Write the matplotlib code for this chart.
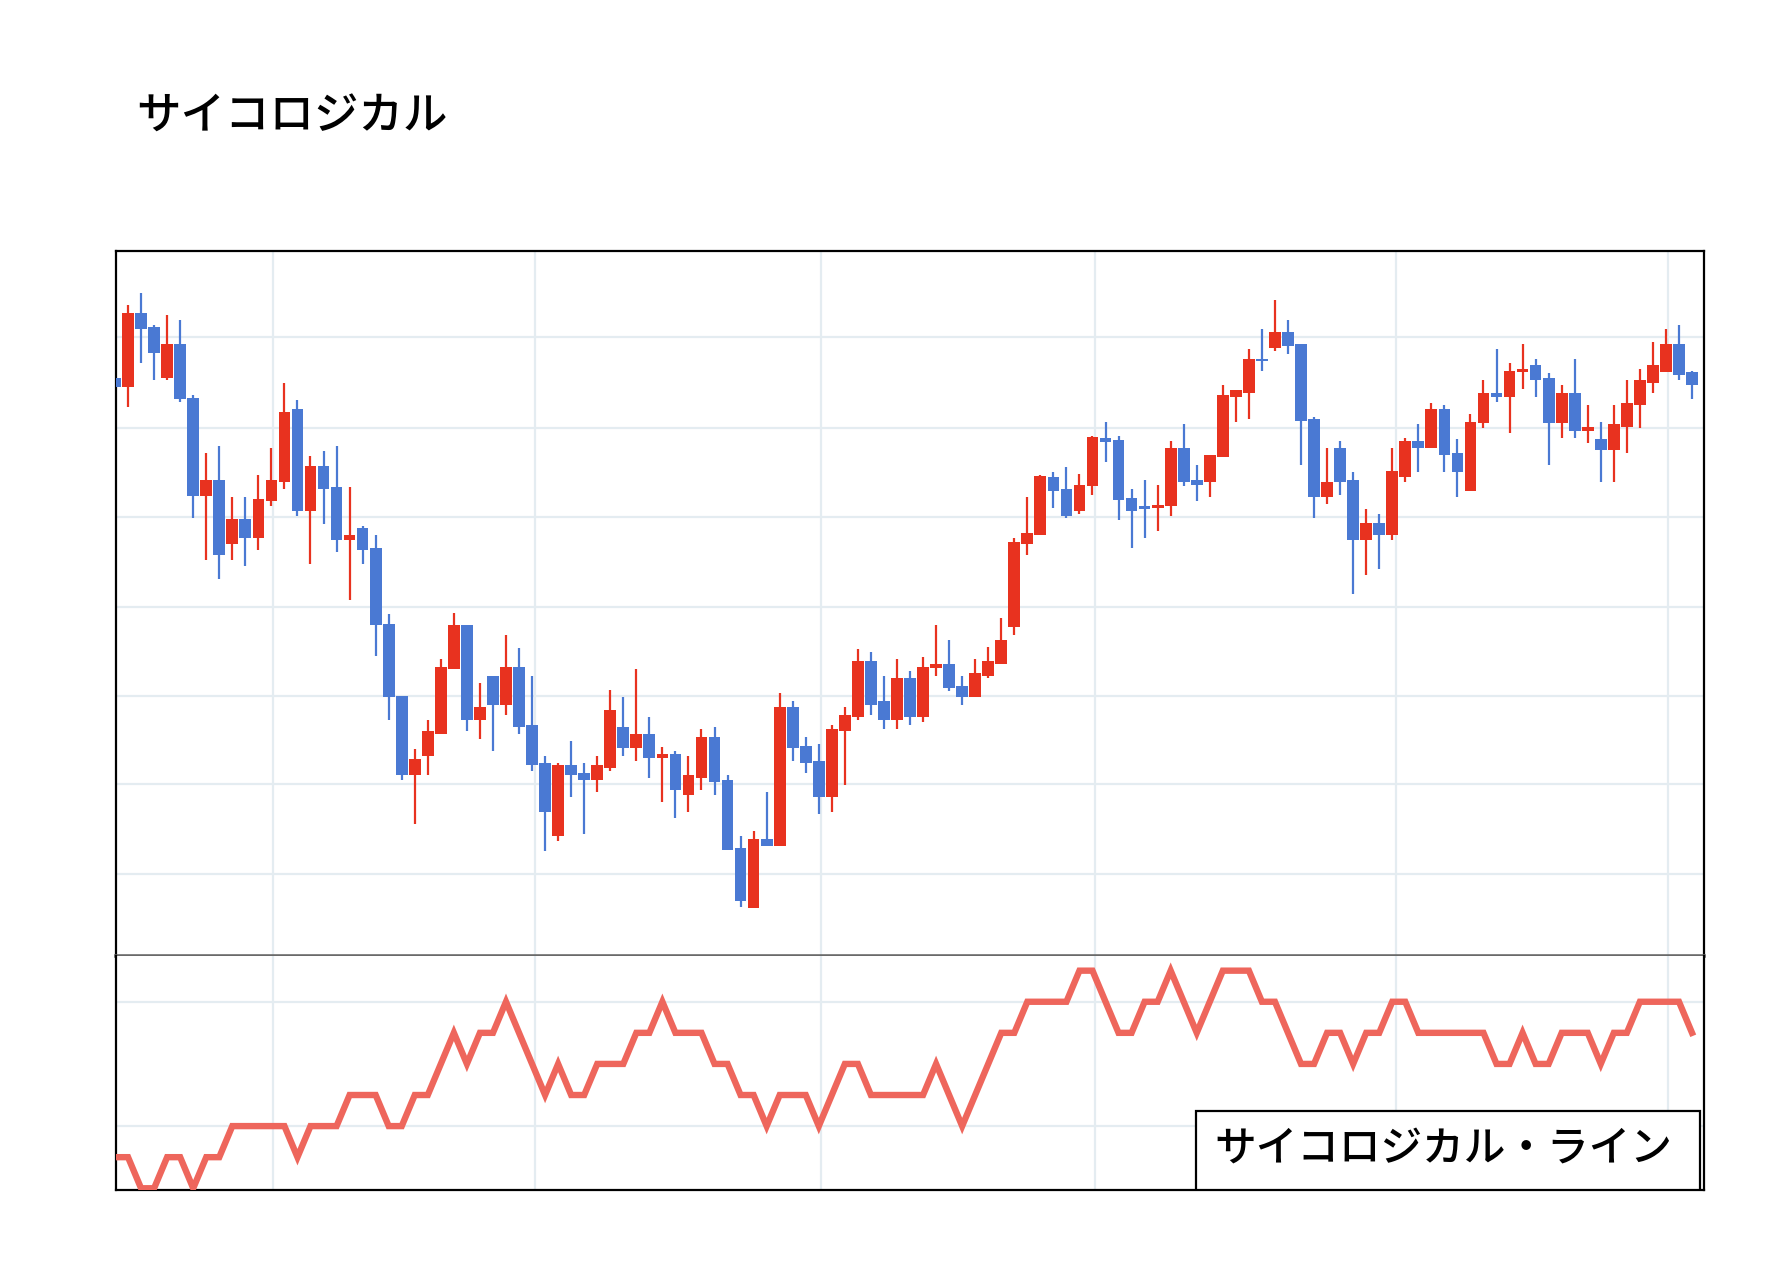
import numpy as np
import matplotlib
matplotlib.use('Agg')
import matplotlib.pyplot as plt
from matplotlib.patches import Rectangle

plt.rcParams['font.family'] = ['Noto Sans CJK JP', 'DejaVu Sans']

# candle data (arbitrary price units)
opens = [658.5, 648.5, 731, 715, 658.5, 696, 637, 528.5, 546, 475,
         503.5, 482.5, 522.5, 544, 624, 512, 562, 538.5, 480, 493,
         471, 387.5, 307.5, 220, 241.5, 266, 337.5, 386, 281.5, 329.5,
         297.5, 340, 276, 233.5, 153.5, 231, 222.5, 215, 228.5, 273.5,
         250, 266, 239, 244, 198.5, 217.5, 262.5, 215, 140, 73.5,
         150, 142.5, 295, 252.5, 236, 196, 268.5, 284, 346, 302.5,
         281.5, 327, 284, 339, 343.5, 318.5, 306, 329.5, 343.5, 383.5,
         475, 485, 549, 536, 512, 539, 592.5, 590, 526, 517.5,
         515, 517.5, 581.5, 546, 544, 571, 637.5, 642.5, 680, 691.5,
         709, 696, 613.5, 527.5, 581.5, 546, 480, 498.5, 485, 549,
         589, 581.5, 624, 576, 533.5, 608.5, 642.5, 637.5, 665, 672.5,
         658.5, 608.5, 642.5, 600, 591.5, 579, 605, 629, 653.5, 665,
         696, 665]
highs = [660, 739, 752.5, 717.5, 728, 722.5, 640, 576, 583.5, 527.5,
         527.5, 551.5, 581.5, 653, 634.5, 572.5, 578, 583.5, 538.5, 495,
         485, 398.5, 307.5, 249, 281, 348.5, 399, 386, 321.5, 329.5,
         375, 361, 329.5, 241.5, 233.5, 258, 233.5, 241.5, 314, 306,
         337.5, 284, 251.5, 246.5, 241.5, 271, 273.5, 220, 153.5, 158.5,
         201.5, 311, 302.5, 262.5, 255, 276, 295, 359, 356, 329.5,
         348.5, 335, 351, 386, 370, 329.5, 348.5, 361.5, 394, 482.5,
         527.5, 551.5, 555, 560, 552.5, 595, 610, 595, 536, 546,
         541, 589, 608, 562.5, 573.5, 651, 645, 691, 712.5, 745,
         722.5, 696, 616, 581.5, 589, 555, 514, 509, 581.5, 592.5,
         608, 631.5, 629, 591.5, 618.5, 656, 691, 675, 696, 680,
         664, 651, 680, 629, 610, 629, 656, 669, 698.5, 712.5,
         717.5, 666.5]
lows = [647, 626.5, 675, 656.5, 656.5, 632.5, 504, 458, 437, 458,
        451, 468.5, 517, 536, 506.5, 453, 498, 466.5, 413.5, 453,
        351.5, 281.5, 215, 166.5, 220, 266, 337.5, 268.5, 260, 247,
        286.5, 266, 225, 136.5, 147.5, 196, 155, 201.5, 225, 241.5,
        236, 217.5, 191, 172.5, 180, 204, 198.5, 137.5, 75, 73.5,
        142.5, 142.5, 236, 222.5, 177.5, 180, 209, 281.5, 286.5, 271,
        271, 276, 279, 330, 313.5, 297.5, 306, 327, 343.5, 375,
        463.5, 485, 515, 504, 509, 530, 566, 501.5, 471.5, 482.5,
        490, 506.5, 539, 522.5, 527.5, 571, 610, 613.5, 666.5, 689,
        685, 562.5, 504, 520, 530, 420, 441.5, 447.5, 480, 544,
        555, 581.5, 555, 527.5, 533.5, 603.5, 632.5, 597.5, 646, 637.5,
        562.5, 592.5, 592.5, 586.5, 544, 544, 576, 603.5, 642.5, 665,
        656.5, 635]
closes = [648.5, 731, 712.5, 686, 696, 635, 528.5, 546, 463.5, 503.5,
          482.5, 525, 546, 621, 512, 562, 536, 480, 485, 469,
          386, 306, 220, 238.5, 268.5, 340, 386, 281.5, 295, 297.5,
          340, 273.5, 231, 180, 231, 220, 215, 231, 292.5, 250,
          266, 239, 244, 204, 220, 262.5, 212.5, 137.5, 81, 150,
          142.5, 295, 250, 233.5, 196, 271, 286.5, 346, 297.5, 281.5,
          327, 284, 340, 343.5, 316, 306, 332.5, 346, 370, 477.5,
          487.5, 550, 534, 506.5, 541, 593.5, 587.5, 523.5, 512, 514,
          518.5, 581.5, 544, 541, 573.5, 640, 645, 680, 678, 709,
          694, 611, 527.5, 544, 544, 480, 498.5, 485, 556.5, 589,
          581.5, 624, 573.5, 555, 610, 642.5, 637.5, 666.5, 669, 656.5,
          608.5, 642.5, 600, 605, 579, 607.5, 631.5, 656, 672.5, 696,
          661.5, 651]

# psychological line (%)
psy_line = [12.5, 12.5, 0, 0, 12.5, 12.5, 0, 12.5, 12.5,
            25, 25, 25, 25, 25, 12.5, 25, 25, 25,
            37.5, 37.5, 37.5, 25, 25, 37.5, 37.5, 50, 62.5, 50,
            62.5, 62.5, 75, 62.5, 50, 37.5, 50, 37.5, 37.5, 50,
            50, 50, 62.5, 62.5, 75, 62.5, 62.5, 62.5, 50, 50,
            37.5, 37.5, 25, 37.5, 37.5, 37.5, 25, 37.5, 50, 50,
            37.5, 37.5, 37.5, 37.5, 37.5, 50, 37.5, 25, 37.5, 50,
            62.5, 62.5, 75, 75, 75, 75, 87.5, 87.5, 75, 62.5,
            62.5, 75, 75, 87.5, 75, 62.5, 75, 87.5, 87.5, 87.5,
            75, 75, 62.5, 50, 50, 62.5, 62.5, 50, 62.5, 62.5,
            75, 75, 62.5, 62.5, 62.5, 62.5, 62.5, 62.5, 50, 50,
            62.5, 50, 50, 62.5, 62.5, 62.5, 50, 62.5, 62.5, 75,
            75, 75, 75, 62.5]

# month boundaries (in candle index units) and grid levels
month_lines = [12.1, 32.25, 54.2, 75.2, 98.25, 119.15]
price_grid = [111, 210, 307.5, 406, 505, 604, 703.5]
psy_grid = [25, 75]

UP = '#e8321f'
DOWN = '#4a79d3'
LINE = '#ee665c'
GRID = '#e4ecf1'

o = np.array(opens)
h = np.array(highs)
l = np.array(lows)
c = np.array(closes)
x = np.arange(len(o))
colors = [UP if cc >= oo else DOWN for oo, cc in zip(o, c)]

W, H = 1774, 1282
fig = plt.figure(figsize=(W / 100, H / 100), dpi=100)
left, right = 116.5 / W, 1704 / W
ax = fig.add_axes([left, 1 - 956 / H, right - left, (956 - 251) / H])
ax2 = fig.add_axes([left, 1 - 1190 / H, right - left, (1190 - 956) / H])

for a in (ax, ax2):
    a.set_xlim(0.115, 121.92)
    a.set_xticks(month_lines)
    a.tick_params(length=0, labelbottom=False, labelleft=False)
    a.grid(True, color=GRID, linewidth=1.6)
    a.set_axisbelow(True)
    for s in a.spines.values():
        s.set_linewidth(1.6)
        s.set_color('black')

# candles
ax.vlines(x, l, h, colors=colors, linewidth=1.6, zorder=2)
ax.bar(x, c - o, bottom=o, width=0.9, color=colors, linewidth=0, zorder=3)
ax.set_ylim(20.6, 798.9)
ax.set_yticks(price_grid)
ax.spines['bottom'].set_color('#6a6a6a')
ax.spines['bottom'].set_linewidth(2.6)
ax.spines['bottom'].set_zorder(4)

# psychological line
ax2.plot(x, psy_line, color=LINE, linewidth=4.6, solid_joinstyle='miter', zorder=3)
ax2.set_ylim(-0.7, 93.4)
ax2.set_yticks(psy_grid)
ax2.spines['top'].set_visible(False)

# legend box
ax2.add_patch(Rectangle((0.68, 0.0), 0.9973 - 0.68, 0.3376, transform=ax2.transAxes,
                        facecolor='white', edgecolor='black', linewidth=1.6, zorder=5))
ax2.text((0.68 + 0.9973) / 2 - 0.003, 0.18, 'サイコロジカル・ライン', transform=ax2.transAxes,
         ha='center', va='center', fontsize=30, fontweight='medium', zorder=6)

fig.text(136 / W, 1 - 117 / H, 'サイコロジカル', fontsize=32, fontweight='medium',
         ha='left', va='center')

fig.savefig('out.png', dpi=100)
